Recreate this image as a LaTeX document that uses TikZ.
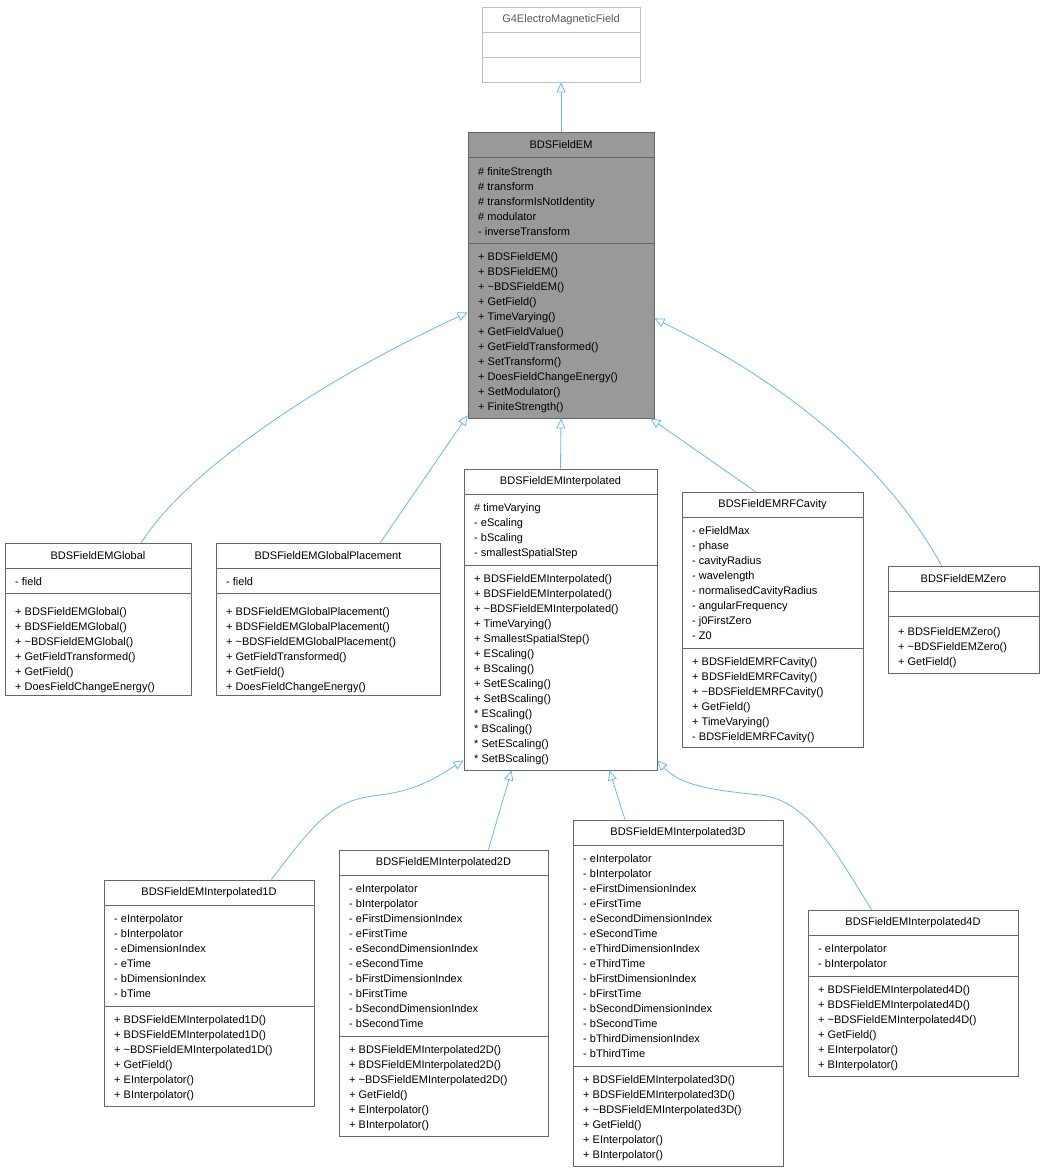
\documentclass[tikz,border=0pt]{standalone}
\usepackage{fontspec}
\setmainfont{Liberation Sans}
\usetikzlibrary{arrows.meta}
\definecolor{edge}{HTML}{63B8FF}
\definecolor{bord}{HTML}{666666}
\newcommand\fs{\fontsize{11}{15}\selectfont}
\tikzset{
  boxs/.style={draw=bord, fill=white, inner sep=0, line width=0.8pt},
  txt/.style={anchor=north west, inner sep=0, align=left, font=\fs},
  ttl/.style={inner sep=0, font=\fs},
  inh/.style={draw=edge, line width=0.8pt, -{Triangle[open, length=10pt, width=9pt]}},
}
% name, x1, y1, x2, y2, title, box style
\newcommand\cbox[7]{%
  \node[boxs, #7, minimum width={#4-#2}, minimum height={#5-#3}] (#1) at ({(#2+#4)/2},{(#3+#5)/2}) {};
  \node[ttl] (#1t) at ({(#2+#4)/2},{#3+12.5}) {#6};
  \draw[#7,draw=bord, line width=0.8pt] (#2,#3+25) -- (#4,#3+25);}
\newcommand\csep[4]{\draw[draw=bord, line width=0.8pt, #4] (#1,#3) -- (#2,#3);}
\begin{document}
\begin{tikzpicture}[x=1pt,y=-1pt]
\useasboundingbox (0,0) rectangle (1045,1173);
% G4
\node[boxs, draw=black!25, minimum width=158, minimum height=75] (g4) at (561,44.5) {};
\node[ttl, text=black!65] (g4t) at (561,19.5) {G4ElectroMagneticField};
\draw[black!25, line width=0.8pt] (482,32)--(640,32) (482,57)--(640,57);
% BDSFieldEM
\cbox{em}{468}{132}{654}{418}{BDSFieldEM}{fill=black!40}
\csep{468}{654}{243}{}
\node[txt] (ema) at (478,164.5) {\strut\# finiteStrength\\\# transform\\\# transformIsNotIdentity\\\# modulator\\- inverseTransform};
\node[txt] (emm) at (478,249.5) {\strut+ BDSFieldEM()\\+ BDSFieldEM()\\+ \textasciitilde BDSFieldEM()\\+ GetField()\\+ TimeVarying()\\+ GetFieldValue()\\+ GetFieldTransformed()\\+ SetTransform()\\+ DoesFieldChangeEnergy()\\+ SetModulator()\\+ FiniteStrength()};
% Global
\cbox{glob}{5}{543}{191}{695}{BDSFieldEMGlobal}{}
\csep{5}{191}{593}{}
\node[txt] at (15,574.5) {\strut- field};
\node[txt] at (15,604.5) {\strut+ BDSFieldEMGlobal()\\+ BDSFieldEMGlobal()\\+ \textasciitilde BDSFieldEMGlobal()\\+ GetFieldTransformed()\\+ GetField()\\+ DoesFieldChangeEnergy()};
% GlobalPlacement
\cbox{gp}{216}{543}{440}{695}{BDSFieldEMGlobalPlacement}{}
\csep{216}{440}{593}{}
\node[txt] at (226,574.5) {\strut- field};
\node[txt] at (226,604.5) {\strut+ BDSFieldEMGlobalPlacement()\\+ BDSFieldEMGlobalPlacement()\\+ \textasciitilde BDSFieldEMGlobalPlacement()\\+ GetFieldTransformed()\\+ GetField()\\+ DoesFieldChangeEnergy()};
% Interpolated
\cbox{ip}{464}{469}{657}{770}{BDSFieldEMInterpolated}{}
\csep{464}{657}{565}{}
\node[txt] at (474,500.5) {\strut\# timeVarying\\- eScaling\\- bScaling\\- smallestSpatialStep};
\node[txt] at (474,571.5) {\strut+ BDSFieldEMInterpolated()\\+ BDSFieldEMInterpolated()\\+ \textasciitilde BDSFieldEMInterpolated()\\+ TimeVarying()\\+ SmallestSpatialStep()\\+ EScaling()\\+ BScaling()\\+ SetEScaling()\\+ SetBScaling()\\* EScaling()\\* BScaling()\\* SetEScaling()\\* SetBScaling()};
% RFCavity
\cbox{rf}{682}{492}{863}{747}{BDSFieldEMRFCavity}{}
\csep{682}{863}{648}{}
\node[txt] at (692,523.5) {\strut- eFieldMax\\- phase\\- cavityRadius\\- wavelength\\- normalisedCavityRadius\\- angularFrequency\\- j0FirstZero\\- Z0};
\node[txt] at (692,654.5) {\strut+ BDSFieldEMRFCavity()\\+ BDSFieldEMRFCavity()\\+ \textasciitilde BDSFieldEMRFCavity()\\+ GetField()\\+ TimeVarying()\\- BDSFieldEMRFCavity()};
% Zero
\cbox{zero}{888}{566}{1039}{673}{BDSFieldEMZero}{}
\csep{888}{1039}{616}{}
\node[txt] at (898,624.5) {\strut+ BDSFieldEMZero()\\+ \textasciitilde BDSFieldEMZero()\\+ GetField()};
% 1D
\cbox{i1}{104}{880}{314}{1106}{BDSFieldEMInterpolated1D}{}
\csep{104}{314}{1006}{}
\node[txt] at (114,911.5) {\strut- eInterpolator\\- bInterpolator\\- eDimensionIndex\\- eTime\\- bDimensionIndex\\- bTime};
\node[txt] at (114,1012.5) {\strut+ BDSFieldEMInterpolated1D()\\+ BDSFieldEMInterpolated1D()\\+ \textasciitilde BDSFieldEMInterpolated1D()\\+ GetField()\\+ EInterpolator()\\+ BInterpolator()};
% 2D
\cbox{i2}{339}{850}{548}{1136}{BDSFieldEMInterpolated2D}{}
\csep{339}{548}{1036}{}
\node[txt] at (349,881.5) {\strut- eInterpolator\\- bInterpolator\\- eFirstDimensionIndex\\- eFirstTime\\- eSecondDimensionIndex\\- eSecondTime\\- bFirstDimensionIndex\\- bFirstTime\\- bSecondDimensionIndex\\- bSecondTime};
\node[txt] at (349,1042.5) {\strut+ BDSFieldEMInterpolated2D()\\+ BDSFieldEMInterpolated2D()\\+ \textasciitilde BDSFieldEMInterpolated2D()\\+ GetField()\\+ EInterpolator()\\+ BInterpolator()};
% 3D
\cbox{i3}{573}{820}{783}{1166}{BDSFieldEMInterpolated3D}{}
\csep{573}{783}{1066}{}
\node[txt] at (583,851.5) {\strut- eInterpolator\\- bInterpolator\\- eFirstDimensionIndex\\- eFirstTime\\- eSecondDimensionIndex\\- eSecondTime\\- eThirdDimensionIndex\\- eThirdTime\\- bFirstDimensionIndex\\- bFirstTime\\- bSecondDimensionIndex\\- bSecondTime\\- bThirdDimensionIndex\\- bThirdTime};
\node[txt] at (583,1072.5) {\strut+ BDSFieldEMInterpolated3D()\\+ BDSFieldEMInterpolated3D()\\+ \textasciitilde BDSFieldEMInterpolated3D()\\+ GetField()\\+ EInterpolator()\\+ BInterpolator()};
% 4D
\cbox{i4}{808}{910}{1018}{1076}{BDSFieldEMInterpolated4D}{}
\csep{808}{1018}{976}{}
\node[txt] at (818,941.5) {\strut- eInterpolator\\- bInterpolator};
\node[txt] at (818,982.5) {\strut+ BDSFieldEMInterpolated4D()\\+ BDSFieldEMInterpolated4D()\\+ \textasciitilde BDSFieldEMInterpolated4D()\\+ GetField()\\+ EInterpolator()\\+ BInterpolator()};
% edges
\draw[inh] (em.north) -- (g4.south);
\draw[inh] ([xshift=-50pt]glob.north east) .. controls (180,480) and (300,390) .. ([yshift=106pt]em.south west);
\draw[inh] ([xshift=-60pt]gp.north east) -- ([yshift=3pt]em.south west);
\draw[inh] (ip.north) -- (em.south);
\draw[inh] ([xshift=-17pt]rf.north) -- ([xshift=-4pt]em.south east);
\draw[inh] ([xshift=-22pt]zero.north) .. controls (900,490) and (820,400) .. ([yshift=100pt]em.south east);
\draw[inh] ([xshift=-43pt]i1.north east) .. controls (320,815) and (335,800) .. (380,795) .. controls (420,790) and (440,775) .. ([yshift=10pt]ip.south west);
\draw[inh] ([xshift=-60pt]i2.north east) -- ([xshift=48pt]ip.south west);
\draw[inh] ([xshift=-53pt]i3.north) -- ([xshift=-48pt]ip.south east);
\draw[inh] ([xshift=64pt]i4.north west) .. controls (840,860) and (810,800) .. (760,795) .. controls (710,790) and (680,785) .. ([yshift=10pt]ip.south east);
\end{tikzpicture}
\end{document}
